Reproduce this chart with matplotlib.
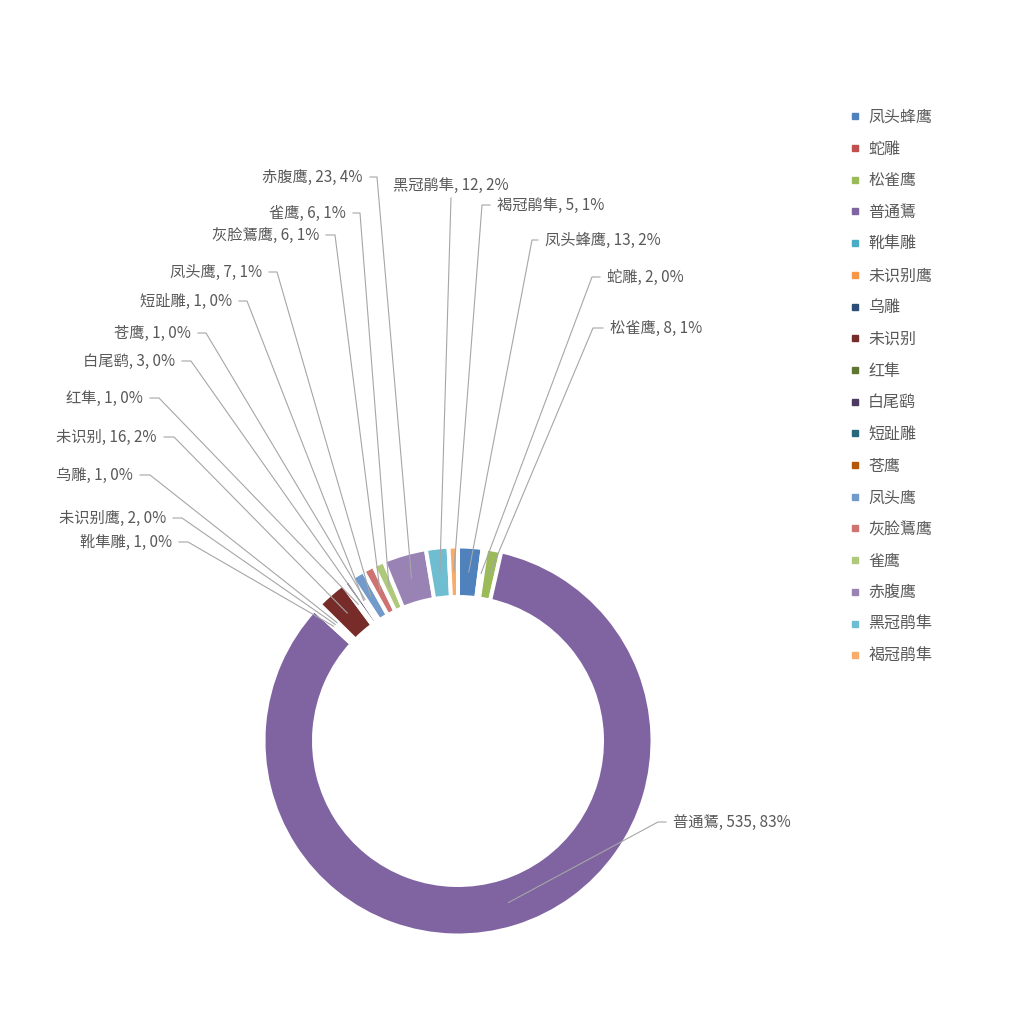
import math
import matplotlib
matplotlib.use("Agg")
import matplotlib.pyplot as plt
from matplotlib.lines import Line2D

plt.rcParams['font.family'] = ['Noto Sans CJK SC', 'DejaVu Sans']

categories = ['凤头蜂鹰', '蛇雕', '松雀鹰', '普通鵟', '靴隼雕', '未识别鹰', '乌雕', '未识别',
              '红隼', '白尾鹞', '短趾雕', '苍鹰', '凤头鹰', '灰脸鵟鹰', '雀鹰', '赤腹鹰',
              '黑冠鹃隼', '褐冠鹃隼']
counts = [13, 2, 8, 535, 1, 2, 1, 16, 1, 3, 1, 1, 7, 6, 6, 23, 12, 5]
colors = ['#4F81BD', '#C0504D', '#9BBB59', '#8064A2', '#4BACC6', '#F79646',
          '#2C4D75', '#772C2A', '#5F7530', '#4D3B62', '#276A7C', '#B65708',
          '#729ACA', '#CD7371', '#AFC97A', '#9983B5', '#6FBDD1', '#F9AB6B']

# label layout (pixel coords): side, text x, text y, elbow x
label_layout = [
    ('R', 545, 240, 532), ('R', 607, 277, 592), ('R', 610, 328, 593),
    ('R', 673, 822, 658), ('L', 172, 542, 188), ('L', 166, 518, 182),
    ('L', 133, 475, 150), ('L', 157, 437, 174), ('L', 143, 398, 159),
    ('L', 175, 361, 191), ('L', 232, 301, 247), ('L', 191, 333, 206),
    ('L', 262, 272, 277), ('L', 319, 235, 335), ('L', 346, 213, 360),
    ('L', 363, 177, 377), ('C', 451, 185, 451), ('R', 497, 205, 482),
]

TEXT_COLOR = '#595959'
LINE_COLOR = '#A6A6A6'
FS = 11
LEG_FS = 11.5

fig = plt.figure(figsize=(10.24, 10.24), dpi=100)
ax = fig.add_axes([0, 0, 1, 1])

edge_px = 4.0
cx, cy = 458, 741
r_out, r_in = 192.5, 146
wedges, _ = ax.pie(counts, colors=colors, startangle=-90, counterclock=True,
                   center=(cx, cy), radius=r_out + edge_px / 2, frame=True,
                   wedgeprops=dict(width=(r_out - r_in) + edge_px,
                                   edgecolor='white', linewidth=edge_px * 0.72))
ax.set_xlim(0, 1024)
ax.set_ylim(1024, 0)
ax.set_aspect('equal')
ax.axis('off')

total = sum(counts)
r_mid = (r_out + r_in) / 2
for w, name, val, lay in zip(wedges, categories, counts, label_layout):
    side, tx, ty, ex = lay
    th = math.radians((w.theta1 + w.theta2) / 2)
    axp = cx + r_mid * math.cos(th)
    ayp = cy + r_mid * math.sin(th)
    pct = round(val / total * 100)
    txt = f'{name}, {val}, {pct}%'
    if side == 'L':
        ax.plot([tx + 7, ex, axp], [ty, ty, ayp], color=LINE_COLOR, lw=0.8, zorder=3)
        ax.text(tx, ty, txt, ha='right', va='center', fontsize=FS, color=TEXT_COLOR)
    elif side == 'R':
        ax.plot([axp, ex, tx - 7], [ayp, ty, ty], color=LINE_COLOR, lw=0.8, zorder=3)
        ax.text(tx, ty, txt, ha='left', va='center', fontsize=FS, color=TEXT_COLOR)
    else:
        ax.plot([ex, axp], [ty + 13, ayp], color=LINE_COLOR, lw=0.8, zorder=3)
        ax.text(tx, ty, txt, ha='center', va='center', fontsize=FS, color=TEXT_COLOR)

handles = [Line2D([], [], marker='s', linestyle='', color=c, markersize=5)
           for c in colors]
leg = ax.legend(handles, categories, loc='upper left',
                bbox_to_anchor=(849 / 1024, 1 - 109 / 1024),
                bbox_transform=fig.transFigure, frameon=False, fontsize=LEG_FS,
                labelspacing=0.92, handlelength=0.7, handletextpad=0.5,
                borderpad=0, borderaxespad=0)
for t in leg.get_texts():
    t.set_color(TEXT_COLOR)

fig.savefig('out.png', dpi=100, facecolor='white')
